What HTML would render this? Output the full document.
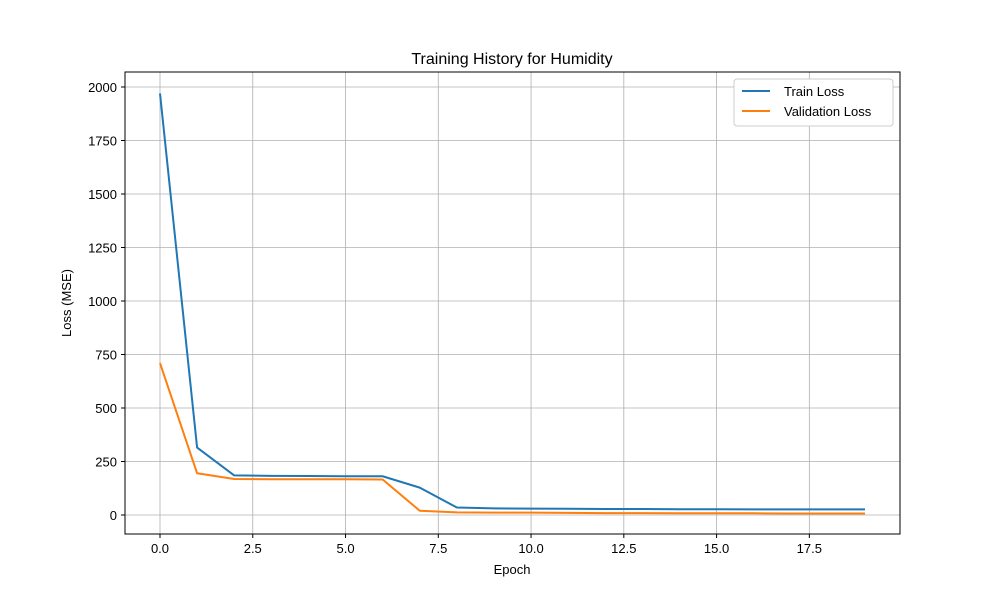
<!DOCTYPE html>
<html><head><meta charset="utf-8"><style>
body{margin:0;background:#fff;}
svg text{font-family:"Liberation Sans","DejaVu Sans",sans-serif;fill:#000;}
</style></head><body>
<svg id="chart" width="1000" height="600" xmlns="http://www.w3.org/2000/svg">
<rect width="1000" height="600" fill="#fff"/>
<g id="grid"></g>
<g id="ticks"></g>
<g id="lines"></g>
<rect x="125" y="72" width="775" height="462" fill="none" stroke="#000" stroke-width="1"/>
<text x="512" y="64" font-size="16" text-anchor="middle">Training History for Humidity</text>
<text x="512" y="574" font-size="13" text-anchor="middle">Epoch</text>
<text x="71" y="303" font-size="13" text-anchor="middle" transform="rotate(-90 71 303)">Loss (MSE)</text>
<g>
<rect x="734" y="79" width="159" height="47" rx="3" fill="#fff" stroke="#ccc" stroke-width="1"/>
<g><line x1="742" y1="91" x2="770" y2="91" stroke="#1f77b4" stroke-width="2"/><text x="784" y="96" font-size="13">Train Loss</text></g>
<g><line x1="742" y1="111" x2="770" y2="111" stroke="#ff7f0e" stroke-width="2"/><text x="784" y="116" font-size="13">Validation Loss</text></g>
</g>
</svg>
<script>
const epochs=[0,1,2,3,4,5,6,7,8,9,10,11,12,13,14,15,16,17,18,19];
const trainLoss=[1970,315,185,183,182,181,181,128,35,31,30,29,28,28,27,27,26,26,26,26];
const valLoss=[710,195,168,167,167,167,166,20,12,11,11,10,9,9,8,8,8,7,7,7];
const xTicks=[0,2.5,5,7.5,10,12.5,15,17.5];
const xTickLabels=["0.0","2.5","5.0","7.5","10.0","12.5","15.0","17.5"];
const yTicks=[0,250,500,750,1000,1250,1500,1750,2000];
const yTickLabels=["0","250","500","750","1000","1250","1500","1750","2000"];
const NS="http://www.w3.org/2000/svg";
const xs=v=>160+v*(705/19);
const ys=v=>515-v*(428/2000);
function mk(tag,attrs,parent){const e=document.createElementNS(NS,tag);for(const k in attrs)e.setAttribute(k,attrs[k]);parent.appendChild(e);return e;}
const grid=document.getElementById('grid'),ticks=document.getElementById('ticks'),lines=document.getElementById('lines');
xTicks.forEach((t,i)=>{const x=xs(t);
 let g=mk('line',{x1:x,x2:x,y1:72,y2:534,stroke:'#b0b0b0','stroke-width':0.8},grid);
 
 
 mk('line',{x1:x,x2:x,y1:534,y2:538,stroke:'#000'},ticks);
 let l=mk('text',{x:x,y:553,'font-size':13,'text-anchor':'middle'},ticks);l.textContent=xTickLabels[i];
 
 
});
yTicks.forEach((t,i)=>{const y=ys(t);
 let g=mk('line',{x1:125,x2:900,y1:y,y2:y,stroke:'#b0b0b0','stroke-width':0.8},grid);
 
 
 mk('line',{x1:121,x2:125,y1:y,y2:y,stroke:'#000'},ticks);
 let l=mk('text',{x:117,y:y+5,'font-size':13,'text-anchor':'end'},ticks);l.textContent=yTickLabels[i];
 
 
});
function series(vals,color,name){
 const p=mk('polyline',{points:vals.map((v,i)=>xs(epochs[i])+','+ys(v)).join(' '),fill:'none',stroke:color,'stroke-width':2,'stroke-linejoin':'round'},lines);
 
 
}
series(trainLoss,'#1f77b4','train-loss-line');
series(valLoss,'#ff7f0e','validation-loss-line');
</script>
</body></html>
